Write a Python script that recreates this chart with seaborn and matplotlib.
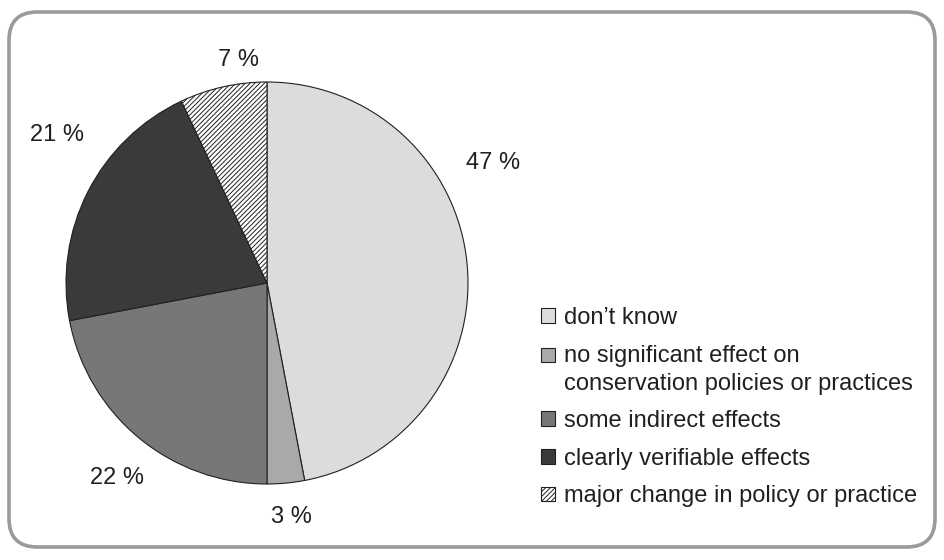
import matplotlib
matplotlib.use("Agg")
import matplotlib.pyplot as plt
import matplotlib.patches as patches
from matplotlib.legend_handler import HandlerPatch
import seaborn as sns

# data
categories = ["don\u2019t know",
              "no significant effect on\nconservation policies or practices",
              "some indirect effects",
              "clearly verifiable effects",
              "major change in policy or practice"]
shares = [47, 3, 22, 21, 7]
pct_labels = ["47 %", "3 %", "22 %", "21 %", "7 %"]

sns.set_theme(style="white")
plt.rcParams['font.family'] = ['Liberation Sans', 'DejaVu Sans']
plt.rcParams['hatch.linewidth'] = 0.7

colors = ["#dcdcde", "#a9a9ab", "#77777a", "#3a3a3b", "white"]
hatches = [None, None, None, None, "///////"]
text_color = "#231f20"
fsize = 17


class TopLineHandler(HandlerPatch):
    # put the square next to the first line of a two-line label
    def create_artists(self, legend, orig_handle, xdescent, ydescent,
                       width, height, fontsize, trans):
        p = patches.Rectangle((-xdescent, -ydescent + 0.62 * fontsize),
                              width, height)
        self.update_prop(p, orig_handle, legend)
        p.set_transform(trans)
        return [p]


fig = plt.figure(figsize=(9.44, 5.6), dpi=100)

# rounded frame around the whole figure
frame = patches.FancyBboxPatch((9 / 944, 13 / 560), 926 / 944, 535 / 560,
                               boxstyle="round,pad=0,rounding_size=0.03",
                               transform=fig.transFigure, facecolor="none",
                               edgecolor="#9a9a9c", linewidth=2.6,
                               mutation_aspect=944 / 560)
fig.patches.append(frame)

ax = fig.add_axes([66 / 944, 76 / 560, 402 / 944, 402 / 560])
wedges, _ = ax.pie(shares, colors=colors, startangle=90, counterclock=False,
                   wedgeprops=dict(edgecolor=text_color, linewidth=0.8))
for w, h in zip(wedges, hatches):
    if h:
        w.set_hatch(h)
ax.set_xlim(-1.0, 1.0)
ax.set_ylim(-1.0, 1.0)
ax.set_aspect("equal")
ax.axis("off")

# percentage labels outside the pie
label_pos = [(1.124, 0.597), (0.124, -1.164), (-0.746, -0.970),
             (-1.045, 0.736), (-0.144, 1.109)]
for txt, (x, y) in zip(pct_labels, label_pos):
    ax.text(x, y, txt, ha="center", va="center", fontsize=fsize,
            color=text_color, clip_on=False)

handles = [patches.Patch(facecolor=c, edgecolor=text_color, hatch=h,
                         linewidth=0.8, label=l)
           for c, h, l in zip(colors, hatches, categories)]
leg = fig.legend(handles=handles, loc="upper left",
                 bbox_to_anchor=(541 / 944, 1 - 307 / 560),
                 frameon=False, fontsize=fsize, labelcolor=text_color,
                 handlelength=0.58, handleheight=0.58, handletextpad=0.38,
                 labelspacing=0.66, borderaxespad=0, borderpad=0,
                 handler_map={handles[1]: TopLineHandler()})
for t in leg.get_texts():
    t.set_linespacing(1.35)

fig.savefig("out.png", dpi=100)
